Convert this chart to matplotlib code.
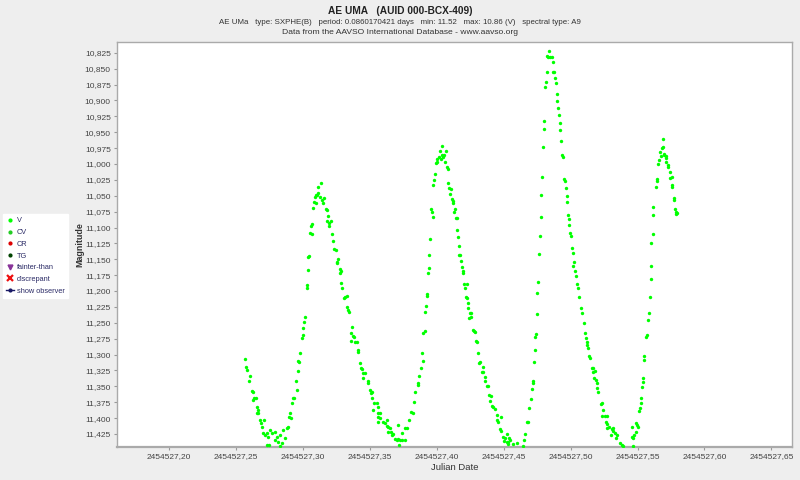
import matplotlib
matplotlib.use("Agg")
import matplotlib.pyplot as plt
from matplotlib.lines import Line2D
from matplotlib.ticker import FuncFormatter, MultipleLocator
import numpy as np

plt.rcParams['font.family'] = ['Liberation Sans', 'DejaVu Sans']

JD_BASE = 2454527.0

# ---- data: (JD - 2454527, V magnitude) ----
cyc1_jd = [0.2567, 0.2575, 0.2582, 0.2604, 0.2597, 0.2619, 0.2627, 0.2634, 0.2649, 0.2627,
           0.2657, 0.2664, 0.2657, 0.2664, 0.2679, 0.2687, 0.2709, 0.2694, 0.2701, 0.2731,
           0.2754, 0.2769, 0.2716, 0.2739, 0.2731, 0.2746, 0.2791, 0.2806, 0.2828, 0.2851,
           0.2791, 0.2813, 0.2843, 0.2828, 0.2866, 0.2881, 0.2888, 0.2896, 0.2910, 0.2903,
           0.2918, 0.2925, 0.2933, 0.2948, 0.2955, 0.2963, 0.2970, 0.2963, 0.2978, 0.2993,
           0.3000, 0.3000, 0.3007, 0.3015, 0.3030, 0.3030, 0.3037, 0.3037, 0.3045, 0.3052,
           0.3067, 0.3060, 0.3067, 0.3075, 0.3082, 0.3097, 0.3090, 0.3097, 0.3104, 0.3112,
           0.3112, 0.3134, 0.3127, 0.3142, 0.3157, 0.3149, 0.3172, 0.3179, 0.3187, 0.3179,
           0.3194, 0.3209, 0.3194, 0.3216, 0.3224, 0.3231, 0.3246, 0.3254, 0.3261, 0.3254,
           0.3276, 0.3284, 0.3276, 0.3284, 0.3291, 0.3313, 0.3328, 0.3306, 0.3328, 0.3336,
           0.3343, 0.3366, 0.3358, 0.3373, 0.3381, 0.3388, 0.3403, 0.3358, 0.3410, 0.3410,
           0.3425, 0.3440, 0.3433, 0.3448, 0.3448, 0.3463]
cyc1_mag = [11.307, 11.319, 11.324, 11.334, 11.342, 11.357, 11.359, 11.368, 11.368, 11.371,
            11.382, 11.387, 11.392, 11.392, 11.403, 11.408, 11.403, 11.414, 11.423, 11.423,
            11.419, 11.423, 11.427, 11.430, 11.442, 11.442, 11.422, 11.430, 11.427, 11.419,
            11.434, 11.438, 11.439, 11.444, 11.431, 11.416, 11.414, 11.398, 11.400, 11.392,
            11.376, 11.368, 11.368, 11.342, 11.356, 11.326, 11.312, 11.310, 11.297, 11.274,
            11.269, 11.258, 11.249, 11.241, 11.196, 11.190, 11.167, 11.146, 11.145, 11.108,
            11.110, 11.097, 11.094, 11.069, 11.060, 11.061, 11.052, 11.049, 11.049, 11.045,
            11.036, 11.030, 11.052, 11.057, 11.053, 11.061, 11.071, 11.072, 11.082, 11.090,
            11.093, 11.090, 11.097, 11.110, 11.121, 11.134, 11.135, 11.154, 11.149, 11.156,
            11.165, 11.168, 11.171, 11.187, 11.195, 11.209, 11.208, 11.211, 11.225, 11.230,
            11.233, 11.257, 11.266, 11.271, 11.272, 11.280, 11.280, 11.279, 11.293, 11.296,
            11.313, 11.323, 11.321, 11.329, 11.337, 11.329]

cyc2_jd = [0.3485, 0.3485, 0.3500, 0.3515, 0.3507, 0.3515, 0.3530, 0.3552, 0.3560, 0.3522,
           0.3560, 0.3575, 0.3560, 0.3575, 0.3560, 0.3597, 0.3612, 0.3627, 0.3627, 0.3634,
           0.3649, 0.3634, 0.3657, 0.3664, 0.3672, 0.3687, 0.3701, 0.3709, 0.3724, 0.3739,
           0.3761, 0.3709, 0.3716, 0.3739, 0.3761, 0.3776, 0.3791, 0.3806, 0.3821, 0.3828,
           0.3836,
           0.3858, 0.3858, 0.3866, 0.3881, 0.3896, 0.3888, 0.3896, 0.3910, 0.3910, 0.3918,
           0.3925, 0.3925, 0.3933, 0.3940, 0.3940, 0.3948, 0.3955, 0.3963, 0.3970, 0.3970,
           0.3978, 0.3985, 0.3993, 0.4000, 0.4000, 0.4015, 0.4030, 0.4037, 0.4022, 0.4037,
           0.4045, 0.4052, 0.4060, 0.4067, 0.4075, 0.4082, 0.4082, 0.4090, 0.4104, 0.4097,
           0.4112, 0.4119, 0.4119, 0.4134, 0.4127, 0.4142, 0.4149, 0.4149, 0.4157, 0.4164,
           0.4172, 0.4164, 0.4179, 0.4187, 0.4194, 0.4194, 0.4201, 0.4224, 0.4209, 0.4216,
           0.4224, 0.4231, 0.4231, 0.4246, 0.4254, 0.4239, 0.4254, 0.4269, 0.4284, 0.4276,
           0.4291, 0.4299, 0.4306, 0.4321, 0.4313, 0.4336, 0.4343, 0.4343, 0.4358, 0.4358,
           0.4373, 0.4381, 0.4388, 0.4403, 0.4396, 0.4410, 0.4418, 0.4433, 0.4448, 0.4448,
           0.4455, 0.4478, 0.4470, 0.4478, 0.4493, 0.4507, 0.4522, 0.4500, 0.4522, 0.4530,
           0.4537, 0.4545, 0.4530, 0.4567, 0.4597]
cyc2_mag = [11.342, 11.345, 11.356, 11.359, 11.360, 11.368, 11.376, 11.376, 11.382, 11.387,
            11.392, 11.392, 11.398, 11.400, 11.406, 11.406, 11.408, 11.403, 11.412, 11.414,
            11.416, 11.422, 11.422, 11.427, 11.425, 11.433, 11.434, 11.433, 11.434, 11.434,
            11.434, 11.411, 11.442, 11.423, 11.416, 11.416, 11.403, 11.390, 11.392, 11.375,
            11.359,
            11.348, 11.345, 11.334, 11.321, 11.310, 11.297, 11.266, 11.263, 11.233, 11.223,
            11.208, 11.204, 11.171, 11.164, 11.143, 11.118, 11.071, 11.075, 11.083, 11.033,
            11.025, 11.016, 10.998, 10.997, 10.992, 10.989, 10.992, 10.986, 10.979, 10.971,
            10.989, 10.986, 10.997, 10.979, 11.004, 11.008, 11.030, 11.038, 11.039, 11.047,
            11.055, 11.058, 11.061, 11.071, 11.075, 11.085, 11.085, 11.104, 11.115, 11.129,
            11.143, 11.143, 11.153, 11.162, 11.168, 11.171, 11.189, 11.189, 11.196, 11.209,
            11.211, 11.219, 11.227, 11.234, 11.234, 11.242, 11.241, 11.261, 11.264, 11.263,
            11.279, 11.280, 11.297, 11.312, 11.313, 11.327, 11.327, 11.319, 11.335, 11.342,
            11.349, 11.349, 11.364, 11.365, 11.373, 11.381, 11.382, 11.386, 11.395, 11.403,
            11.406, 11.398, 11.417, 11.420, 11.430, 11.431, 11.425, 11.436, 11.438, 11.438,
            11.431, 11.434, 11.441, 11.441, 11.439]

cyc3_jd = [0.4642, 0.4649, 0.4657, 0.4672, 0.4679, 0.4687, 0.4701, 0.4709, 0.4716, 0.4716,
           0.4724, 0.4731, 0.4731, 0.4739, 0.4746, 0.4746, 0.4754, 0.4761, 0.4769, 0.4776,
           0.4776, 0.4784, 0.4791, 0.4799, 0.4799, 0.4806, 0.4813, 0.4821, 0.4821, 0.4828,
           0.4836, 0.4843, 0.4858, 0.4866, 0.4866, 0.4873, 0.4881, 0.4888, 0.4896, 0.4896,
           0.4903, 0.4910, 0.4918, 0.4918, 0.4925, 0.4933, 0.4940, 0.4948, 0.4955, 0.4963,
           0.4970, 0.4970, 0.4978, 0.4985, 0.4985, 0.4993, 0.5000, 0.5007, 0.5015, 0.5022,
           0.5015, 0.5030, 0.5037, 0.5045, 0.5052, 0.5060, 0.5075, 0.5082, 0.5097, 0.5104,
           0.5112, 0.5119, 0.5119, 0.5127, 0.5134, 0.5142, 0.5157, 0.5164, 0.5164, 0.5179,
           0.5172, 0.5187, 0.5194, 0.5194, 0.5201, 0.5224, 0.5231, 0.5239, 0.5231, 0.5254,
           0.5269, 0.5261, 0.5269, 0.5269, 0.5284, 0.5306, 0.5313, 0.5313, 0.5299, 0.5328,
           0.5343, 0.5336, 0.5366, 0.5381, 0.5388]
cyc3_mag = [11.444, 11.434, 11.425, 11.406, 11.406, 11.384, 11.370, 11.354, 11.342, 11.345,
            11.312, 11.293, 11.272, 11.268, 11.236, 11.203, 11.186, 11.142, 11.113, 11.083,
            11.049, 11.020, 10.973, 10.945, 10.932, 10.879, 10.871, 10.856, 10.830, 10.831,
            10.822, 10.831, 10.831, 10.839, 10.855, 10.856, 10.864, 10.872, 10.890, 10.901,
            10.912, 10.923, 10.935, 10.946, 10.964, 10.986, 10.989, 11.023, 11.027, 11.038,
            11.050, 11.060, 11.080, 11.086, 11.096, 11.108, 11.113, 11.132, 11.140, 11.154,
            11.160, 11.168, 11.176, 11.189, 11.195, 11.209, 11.227, 11.234, 11.250, 11.266,
            11.274, 11.280, 11.285, 11.290, 11.302, 11.305, 11.321, 11.321, 11.327, 11.326,
            11.337, 11.340, 11.345, 11.353, 11.359, 11.378, 11.376, 11.387, 11.397, 11.397,
            11.397, 11.406, 11.409, 11.416, 11.414, 11.417, 11.416, 11.420, 11.427, 11.423,
            11.427, 11.431, 11.439, 11.442, 11.444]

cyc4_jd = [0.5455, 0.5463, 0.5455, 0.5463, 0.5470, 0.5485, 0.5485, 0.5493, 0.5500, 0.5507,
           0.5515, 0.5522, 0.5522, 0.5530, 0.5537, 0.5537, 0.5545, 0.5545, 0.5560, 0.5567,
           0.5575, 0.5582, 0.5590, 0.5597, 0.5604, 0.5604, 0.5612, 0.5619, 0.5619, 0.5634,
           0.5642, 0.5642, 0.5649, 0.5657, 0.5664, 0.5679, 0.5672, 0.5687, 0.5687, 0.5694,
           0.5701, 0.5709, 0.5716, 0.5709, 0.5724, 0.5731, 0.5739, 0.5746, 0.5754, 0.5754,
           0.5761, 0.5769, 0.5769, 0.5776, 0.5784, 0.5791, 0.5784]
cyc4_mag = [11.430, 11.431, 11.414, 11.444, 11.427, 11.422, 11.408, 11.411, 11.414, 11.389,
            11.384, 11.376, 11.368, 11.351, 11.337, 11.343, 11.308, 11.302, 11.272, 11.269,
            11.245, 11.234, 11.209, 11.181, 11.160, 11.124, 11.110, 11.080, 11.068, 11.036,
            11.027, 11.023, 11.000, 10.993, 10.981, 10.975, 10.987, 10.960, 10.973, 10.984,
            10.986, 10.987, 10.990, 10.997, 11.001, 11.004, 11.012, 11.022, 11.020, 11.033,
            11.036, 11.053, 11.057, 11.071, 11.075, 11.077, 11.079]

jd = JD_BASE + np.array(cyc1_jd + cyc2_jd + cyc3_jd + cyc4_jd)
mag = np.array(cyc1_mag + cyc2_mag + cyc3_mag + cyc4_mag)

title = "AE UMA   (AUID 000-BCX-409)"
subtitle = ("AE UMa   type: SXPHE(B)   period: 0.0860170421 days   min: 11.52   "
            "max: 10.86 (V)   spectral type: A9")
source = "Data from the AAVSO International Database - www.aavso.org"
legend_labels = ["V", "CV", "CR", "TG", "fainter-than", "discrepant", "show observer"]

BG = "#EEEEEE"
GREEN = "#00FF00"
TXT = "#333333"
NAVY = "#2B2B66"

fig = plt.figure(figsize=(8, 4.8), dpi=100, facecolor=BG)
ax = fig.add_axes([117 / 800, 1 - 447 / 480, (792 - 117) / 800, (447 - 42) / 480])
ax.set_facecolor("white")

ax.scatter(jd, mag, s=6, c=GREEN, marker="o", linewidths=0, zorder=3)

ax.set_xlim(JD_BASE + 0.1610, JD_BASE + 0.6654)
ax.set_ylim(11.4455, 10.808)

ax.xaxis.set_major_locator(MultipleLocator(0.05))
ax.yaxis.set_major_locator(MultipleLocator(0.025))
ax.xaxis.set_major_formatter(FuncFormatter(lambda v, p: f"{v:.2f}".replace(".", ",")))
ax.yaxis.set_major_formatter(FuncFormatter(lambda v, p: f"{v:.3f}".replace(".", ",")))
ax.tick_params(axis="both", labelsize=6.0, colors="#999999", labelcolor="#444444",
               length=2.5, width=0.8, direction="out", pad=2)

for s in ax.spines.values():
    s.set_color("#AAAAAA")
    s.set_linewidth(1.0)
ax.spines["bottom"].set_linewidth(1.6)

ax.set_xlabel("Julian Date", fontsize=6.8, color="#333333", labelpad=2)
ax.set_ylabel("Magnitude", fontsize=6.4, color="#333333", fontweight="bold", labelpad=0)

fig.text(0.5, 1 - 10.5 / 480, title, ha="center", va="center", fontsize=7.3,
         fontweight="bold", color="#222222")
fig.text(0.5, 1 - 22.5 / 480, subtitle, ha="center", va="center", fontsize=5.7, color=TXT)
fig.text(0.5, 1 - 33 / 480, source, ha="center", va="center", fontsize=6.1, color=TXT)

handles = [
    Line2D([], [], marker="o", color=GREEN, ls="none", markersize=2.0),
    Line2D([], [], marker="o", color="#22CC22", ls="none", markersize=2.0),
    Line2D([], [], marker="o", color="#DD0000", ls="none", markersize=2.0),
    Line2D([], [], marker="o", color="#004400", ls="none", markersize=2.0),
    Line2D([], [], marker="v", color="#883399", ls="none", markersize=3.5),
    Line2D([], [], marker="x", color="#EE1111", ls="none", markersize=4.0, mew=1.6),
    Line2D([], [], marker="o", color="#1A1A66", ls="-", lw=1, markersize=2.0),
]
leg = fig.legend(handles, legend_labels, loc="upper left",
                 bbox_to_anchor=(3 / 800, 1 - 214 / 480), fontsize=5.3,
                 frameon=True, facecolor="white", edgecolor="white", framealpha=1,
                 fancybox=False, handlelength=1.1, handletextpad=0.3,
                 labelspacing=0.62, borderpad=0.45, borderaxespad=0)
for t in leg.get_texts():
    t.set_color(NAVY)

fig.savefig("out.png", dpi=100, facecolor=BG)
